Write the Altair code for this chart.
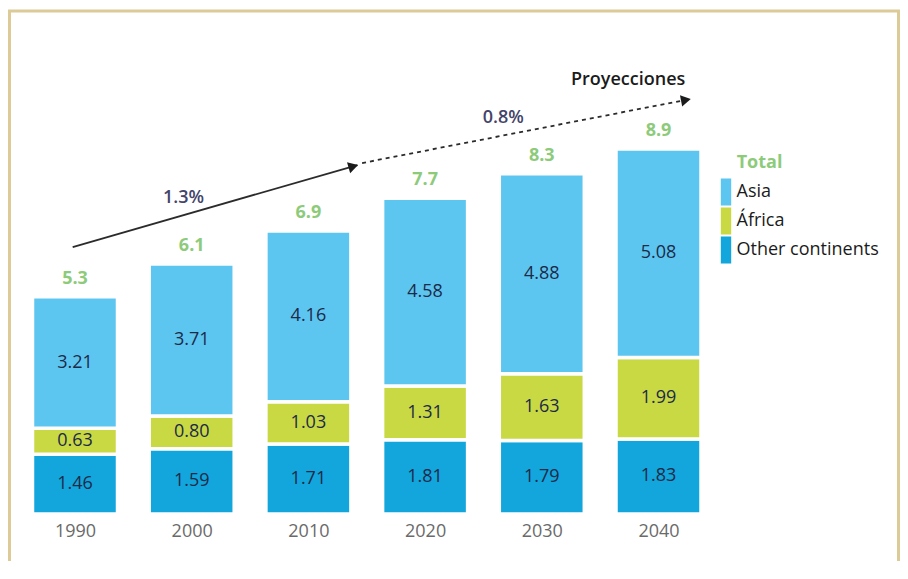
import altair as alt
import pandas as pd
import math

# ---- data ----
years = [1990, 2000, 2010, 2020, 2030, 2040]
other = [1.46, 1.59, 1.71, 1.81, 1.79, 1.83]
africa = [0.63, 0.80, 1.03, 1.31, 1.63, 1.99]
asia = [3.21, 3.71, 4.16, 4.58, 4.88, 5.08]
totals = [5.3, 6.1, 6.9, 7.7, 8.3, 8.9]
regions = ["Asia", "África", "Other continents"]
colors = ["#5CC6F1", "#C9D944", "#12A6DD"]
legend_title = "Total"

# annotation (trend arrows) in data units: year, value
arrow_solid_x = [1989.8, 2014.2]
arrow_solid_y = [6.51, 8.51]
arrow_dash_x = [2014.6, 2042.7]
arrow_dash_y = [8.56, 10.12]
ann_text = ["1.3%", "0.8%"]
ann_text_x = [1999.3, 2026.7]
ann_text_y = [7.71, 9.66]
proj_text = "Proyecciones"
proj_x = [2037.4]
proj_y = [10.59]
legend_title_x = [2046.7]
legend_title_y = [8.55]

# ---- build tables ----
rows = []
for i, yr in enumerate(years):
    base = 0.0
    for order, (reg, vals) in enumerate([("Other continents", other), ("África", africa), ("Asia", asia)]):
        v = vals[i]
        rows.append({"year": yr, "region": reg, "value": v, "order": order,
                     "mid": base + v / 2, "label": f"{v:.2f}"})
        base += v
df = pd.DataFrame(rows)
tot_df = pd.DataFrame({"year": years, "total": totals, "label": [f"{t:.1f}" for t in totals]})

solid_df = pd.DataFrame({"x": arrow_solid_x, "y": arrow_solid_y})
dash_df = pd.DataFrame({"x": arrow_dash_x, "y": arrow_dash_y})

W, H = 889, 600
pxyr = 11.67
pxunit = 41.0


def ang(xs, ys):
    dx = (xs[1] - xs[0]) * pxyr
    dy = (ys[1] - ys[0]) * pxunit
    return (360 - math.degrees(math.atan2(dy, dx))) % 360


head_df = pd.DataFrame({
    "x": [arrow_solid_x[1] - 0.35, arrow_dash_x[1] - 0.35],
    "y": [arrow_solid_y[1] - 0.03, arrow_dash_y[1] - 0.02],
    "ang": [ang(arrow_solid_x, arrow_solid_y), ang(arrow_dash_x, arrow_dash_y)],
})
ann_df = pd.DataFrame({"x": ann_text_x, "y": ann_text_y, "t": ann_text})
proj_df = pd.DataFrame({"x": proj_x, "y": proj_y, "t": [proj_text]})
ltitle_df = pd.DataFrame({"x": legend_title_x, "y": legend_title_y, "t": [legend_title]})

x0 = 1990 - 65.5 / pxyr
xscale = alt.Scale(domain=[x0, x0 + W / pxyr], nice=False, zero=False, padding=0)
yscale = alt.Scale(domain=[-97 / pxunit, 503 / pxunit], nice=False, zero=False, padding=0)

FONT = "Open Sans"
xaxis = alt.Axis(values=years, format="d", title=None, ticks=False, domain=False, grid=False,
                 labelFontSize=18, labelColor="#6a6a6a", offset=-97, labelPadding=8,
                 labelFont=FONT)


def X(field):
    return alt.X(f"{field}:Q", scale=xscale, axis=xaxis)


def Y(field, **kw):
    return alt.Y(f"{field}:Q", scale=yscale, axis=None, **kw)


bars = alt.Chart(df).mark_bar(size=85, stroke="white", strokeWidth=3.5).encode(
    x=X("year"),
    y=Y("value", stack="zero"),
    color=alt.Color("region:N",
                    scale=alt.Scale(domain=regions, range=colors),
                    legend=alt.Legend(
                        title=None,
                        orient="none", legendX=706, legendY=170.5,
                        symbolType="M-0.5,-1.3H0.5V1.3H-0.5Z", symbolSize=432,
                        symbolStrokeWidth=0, symbolOpacity=1,
                        labelFontSize=18, labelColor="#1b1b1b", labelFont=FONT,
                        labelOffset=0, rowPadding=0, padding=0)),
    order=alt.Order("order:Q"),
)

seg_labels = alt.Chart(df).mark_text(fontSize=18, color="#1d2a48", font=FONT).encode(
    x=X("year"), y=Y("mid"), text="label:N")

tot_labels = alt.Chart(tot_df).mark_text(fontSize=18, color="#8DCB7B", fontWeight="bold",
                                         dy=-18, font=FONT).encode(
    x=X("year"), y=Y("total"), text="label:N")

solid = alt.Chart(solid_df).mark_line(color="#2b2b2b", strokeWidth=1.8).encode(x=X("x"), y=Y("y"))
dash = alt.Chart(dash_df).mark_line(color="#2b2b2b", strokeWidth=1.8, strokeDash=[4, 4]).encode(
    x=X("x"), y=Y("y"))
heads = alt.Chart(head_df).mark_point(shape="triangle-right", filled=True, size=130,
                                      color="#1b1b1b", opacity=1).encode(
    x=X("x"), y=Y("y"), angle=alt.Angle("ang:Q", scale=None))
ann = alt.Chart(ann_df).mark_text(fontSize=18, color="#44446a", font=FONT, fontWeight=600).encode(
    x=X("x"), y=Y("y"), text="t:N")
proj = alt.Chart(proj_df).mark_text(fontSize=18, color="#1b1b1b", fontWeight=600,
                                    font=FONT).encode(x=X("x"), y=Y("y"), text="t:N")
ltitle = alt.Chart(ltitle_df).mark_text(fontSize=18, color="#8DCB7B", fontWeight="bold",
                                        font=FONT, align="left").encode(
    x=X("x"), y=Y("y"), text="t:N")

chart = alt.layer(bars, seg_labels, tot_labels, solid, dash, heads, ann, proj, ltitle).properties(
    width=W, height=H,
    autosize=alt.AutoSizeParams(type="none"),
    padding={"left": 1.5, "top": 3, "right": 1.5, "bottom": -50},
    background="white",
).configure_view(stroke="#DCCB97", strokeWidth=3)

chart.save("out.html", embed_options={"renderer": "svg", "actions": False})
